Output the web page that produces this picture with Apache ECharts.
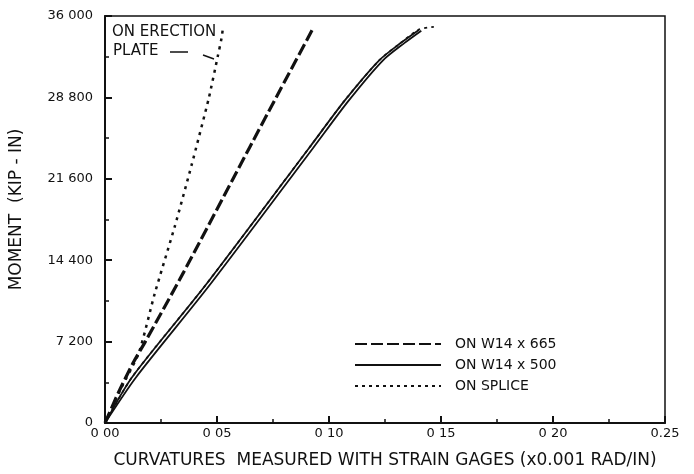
<!DOCTYPE html>
<html>
<head>
<meta charset="utf-8">
<script src="https://cdn.jsdelivr.net/npm/echarts@6/dist/echarts.min.js"></script>
<style>
html,body{margin:0;padding:0;background:#fff;}
#chart{width:694px;height:474px;}
</style>
</head>
<body>
<div id="chart"></div>
<script>
// Tick labels (as printed)
const xTickLabels = ['0 00', '0 05', '0 10', '0 15', '0 20', '0.25'];
const yTickLabels = ['0', '7 200', '14 400', '21 600', '28 800', '36 000'];

// Curvature (x0.001 rad/in) / moment (kip-in) pairs
const w665X = [0, 0.0060, 0.0125, 0.0180, 0.0350, 0.0645, 0.0756, 0.0930];
const w665M = [0, 2700, 5300, 7200, 13300, 24350, 28500, 34950];

const w500aX = [0, 0.0120, 0.0445, 0.0912, 0.1068, 0.1223, 0.1321, 0.1401];
const w500aM = [0, 4030, 12090, 24350, 28470, 32060, 33630, 34770];

const w500bX = [0, 0.0138, 0.0463, 0.0930, 0.1086, 0.1240, 0.1336, 0.1412];
const w500bM = [0, 4030, 12090, 24350, 28470, 32060, 33600, 34700];

const spliceX = [0, 0.0120, 0.0445, 0.0912, 0.1068, 0.1223, 0.1321, 0.1401, 0.1468];
const spliceM = [0, 4030, 12090, 24350, 28470, 32060, 33630, 34800, 35040];

const plateX = [0, 0.0070, 0.0151, 0.0222, 0.0311, 0.0387, 0.0463, 0.0503, 0.0520, 0.0525];
const plateM = [0, 3000, 6200, 11450, 17350, 22850, 28700, 32400, 34000, 34700];

const pairs = (xs, ys) => xs.map((x, i) => [x, ys[i]]);

const chart = echarts.init(document.getElementById('chart'));
const font = 'DejaVu Sans';
chart.setOption({
  animation: false,
  backgroundColor: '#fff',
  grid: {left: 103, right: 29, top: 16, bottom: 46, show: true, borderColor: '#111', borderWidth: 1.5},
  xAxis: {
    type: 'value', min: 0, max: 0.25, interval: 0.05,
    name: 'CURVATURES  MEASURED WITH STRAIN GAGES (x0.001 RAD/IN)',
    nameLocation: 'middle', nameGap: 29,
    nameTextStyle: {fontFamily: font, fontSize: 17, color: '#111'},
    axisLine: {lineStyle: {color: '#111', width: 2}},
    axisTick: {inside: true, length: 7, lineStyle: {color: '#111', width: 2}},
    minorTick: {show: true, splitNumber: 2, length: 4, lineStyle: {color: '#111', width: 1.5}},
    splitLine: {show: false},
    axisLabel: {fontFamily: font, fontSize: 13, color: '#111', margin: 4,
      formatter: v => xTickLabels[Math.round(v / 0.05)]}
  },
  yAxis: {
    type: 'value', min: 0, max: 36000, interval: 7200,
    name: 'MOMENT  (KIP - IN)',
    nameLocation: 'middle', nameGap: 80, nameRotate: 90,
    nameTextStyle: {fontFamily: font, fontSize: 17, color: '#111', padding: [0, 0, 0, 20]},
    axisLine: {lineStyle: {color: '#111', width: 2}},
    axisTick: {inside: true, length: 7, lineStyle: {color: '#111', width: 2}},
    minorTick: {show: true, splitNumber: 2, length: 4, lineStyle: {color: '#111', width: 1.5}},
    splitLine: {show: false},
    axisLabel: {fontFamily: font, fontSize: 13, color: '#111', margin: 12,
      formatter: v => yTickLabels[Math.round(v / 7200)]}
  },
  legend: {
    data: ['ON W14 x 665', 'ON W14 x 500', 'ON SPLICE'],
    orient: 'vertical', left: 349, top: 332, itemWidth: 86, itemHeight: 14, itemGap: 7,
    itemStyle: {opacity: 0},
    textStyle: {fontFamily: font, fontSize: 14, color: '#111', padding: [0, 0, 0, 9]}
  },
  series: [
    {name: 'ON W14 x 665', type: 'line', symbol: 'none', data: pairs(w665X, w665M), smooth: 0.2,
      itemStyle: {color: '#111'}, lineStyle: {color: '#111', width: 3.2, type: [12, 4]}, z: 3},
    {name: 'ON W14 x 500', type: 'line', symbol: 'none', data: pairs(w500aX, w500aM), smooth: 0.25,
      itemStyle: {color: '#111'}, lineStyle: {color: '#111', width: 1.8, type: 'solid'}},
    {name: 'W14 x 500 (2)', type: 'line', symbol: 'none', data: pairs(w500bX, w500bM), smooth: 0.25,
      itemStyle: {color: '#111'}, lineStyle: {color: '#111', width: 1.8, type: 'solid'}},
    {name: 'ON SPLICE', type: 'line', symbol: 'none', data: pairs(spliceX, spliceM), smooth: 0.25,
      itemStyle: {color: '#111'}, lineStyle: {color: '#111', width: 1.8, type: [3, 4]}},
    {name: 'ON ERECTION PLATE', type: 'line', symbol: 'none', data: pairs(plateX, plateM), smooth: 0.2,
      itemStyle: {color: '#111'}, lineStyle: {color: '#111', width: 2.5, type: [3, 5]}}
  ],
  graphic: [
    {type: 'text', left: 112, top: 25, style: {text: 'ON ERECTION', font: '15px "DejaVu Sans"', fill: '#111'}},
    {type: 'text', left: 113, top: 44, style: {text: 'PLATE', font: '15px "DejaVu Sans"', fill: '#111'}},
    {type: 'polyline', shape: {points: [[170, 52], [188, 52]]}, style: {stroke: '#111', lineWidth: 1.5, fill: null}},
    {type: 'polyline', shape: {points: [[203, 55], [214, 59]]}, style: {stroke: '#111', lineWidth: 1.5, fill: null}}
  ]
});
</script>
</body>
</html>
